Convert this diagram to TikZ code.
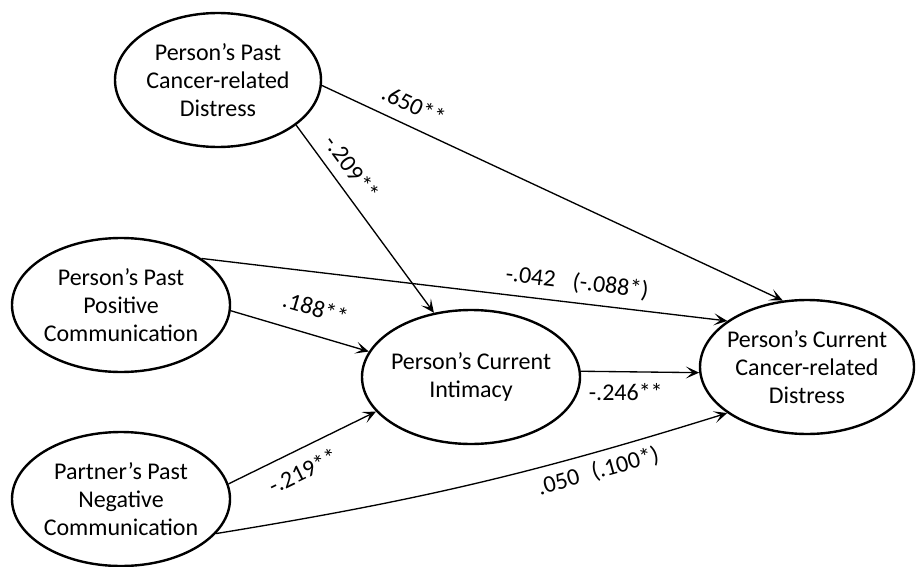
\documentclass[tikz,border=0pt]{standalone}
\usepackage{fontspec}
\setmainfont{Carlito}
\usetikzlibrary{shapes.geometric, arrows.meta}
\tikzstyle{latent}=[shape=ellipse, draw, line width=1.8pt, inner xsep=-30pt, inner ysep=-20pt, minimum height=100.5pt, align=center, font=\fontsize{18}{21}\selectfont]
\tikzstyle{path}=[line width=1pt, -{Stealth[length=10pt, width=9pt, inset=5pt]}]
\tikzstyle{coef}=[font=\fontsize{18}{21}\selectfont, inner sep=1pt]

\begin{document}
\begin{tikzpicture}[x=.75pt, y=-.75pt]
\useasboundingbox (0,0) rectangle (917,567);
%\draw[help lines,step=50] (0,0) grid (917,567);
\node at (218,80)[latent, minimum width=154.5pt](pd){Person’s Past\\Cancer-related\\Distress};
\node at (121,305)[latent, minimum width=163.5pt](pp){Person’s Past\\Positive\\Communication};
\node at (121,499)[latent, minimum width=163.5pt](pn){Partner’s Past\\Negative\\Communication};
\node at (471,377)[latent, minimum width=163.5pt](ci){Person’s Current\\Intimacy};
\node at (807,367)[latent, minimum width=160.5pt](cd){Person’s Current\\Cancer-related\\Distress};
\draw[path] (pd.-3)--(cd.110) node[coef, sloped, above=8pt, pos=.18]{.650**};
\draw[path] (pd.-30)--(ci.120) node[coef, sloped, above=7pt, pos=.29]{-.209**};
\draw[path] (pp.30)--(cd.150) node[coef, sloped, above=6pt, pos=.71]{-.042\hspace{13pt}(-.088*)};
\draw[path] (pp.-3)--(ci.166) node[coef, sloped, above=12pt, pos=.56]{.188**};
\draw[path] (pn.8)--(ci.200) node[coef, sloped, below=8pt, pos=.44]{-.219**};
\draw[path] (pn.-20) to[bend right=4] node[coef, sloped, below=5pt, pos=.75]{.050\hspace{10pt}(.100*)} (cd.210);
\draw[path] (ci.3)--(cd.183) node[coef, below=7pt, pos=.38]{-.246**};
\end{tikzpicture}
\end{document}
